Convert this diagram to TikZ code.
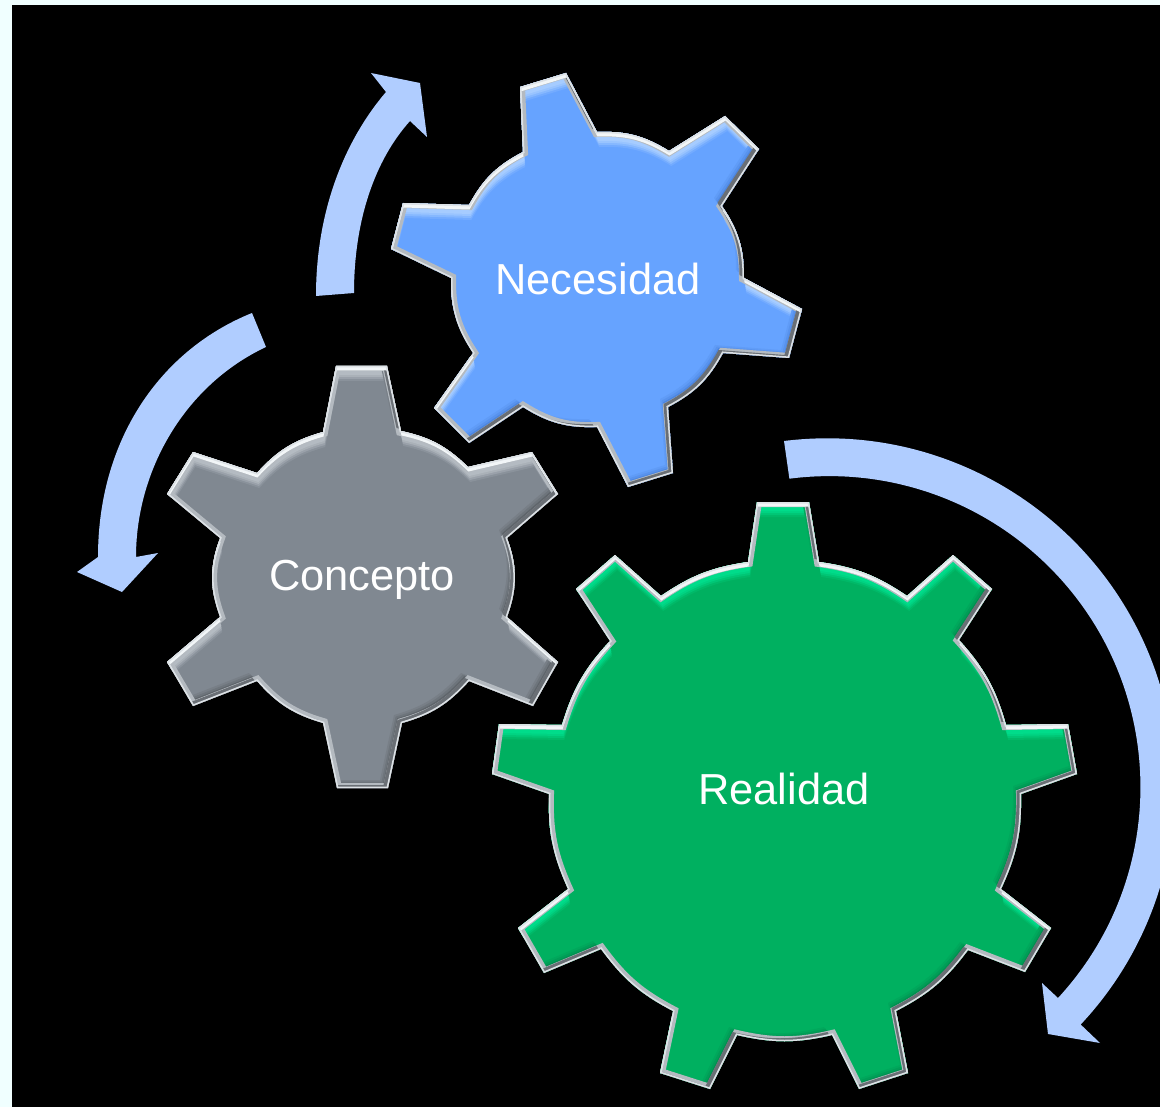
\documentclass[tikz,border=0pt]{standalone}
\usepackage{fontspec}
\setmainfont{Liberation Sans}
\definecolor{margincol}{HTML}{F0FFFF}
\definecolor{arrowcol}{HTML}{B0CDFF}
\definecolor{blueB}{HTML}{66A3FF}
\definecolor{blueL}{HTML}{A6CCFF}
\definecolor{blueD}{HTML}{4C86E0}
\definecolor{grayB}{HTML}{808891}
\definecolor{grayL}{HTML}{B4BBC2}
\definecolor{grayD}{HTML}{5F656B}
\definecolor{greenB}{HTML}{00B060}
\definecolor{greenL}{HTML}{00DC8A}
\definecolor{greenD}{HTML}{009050}
\definecolor{rimS}{HTML}{B4BAC0}
\definecolor{rimD}{HTML}{6A6F75}
\definecolor{rimW}{HTML}{F2F6F8}
\definecolor{rimO}{HTML}{DDE2E6}
\tikzset{
  geartext/.style={text=white,anchor=base,inner sep=0pt,font=\fontsize{43.4}{50}\selectfont},
  flowarrow/.style={fill=arrowcol,draw=none},
  arcN/.style={bend left=17},
  arcC/.style={bend left=16},
  arcS/.style={bend left=20},
  arcR/.style={bend left=13},
}
\def\gearN{(520,87) -- (566,73) -- (597,132) to[arcN] (669,151) -- (725,116) -- (759,149) -- (722,206) to[arcN] (744,278) -- (802,309) -- (789,358) -- (723,353) to[arcN] (668,407) -- (673,473) -- (628,487) -- (597,427) to[arcN] (523,407) -- (469,443) -- (434,408) -- (473,353) to[arcN] (451,278) -- (391,249) -- (403,203) -- (469,205) to[arcN] (523,152) -- cycle}
\def\gearC{(336,366) -- (387,366) -- (401,431) to[arcC] (468,467) -- (532,452) -- (558,494) -- (507,538) to[arcS] (507,617) -- (558,662) -- (533,706) -- (469,681) to[arcC] (402,723) -- (388,788) -- (337,788) -- (323,723) to[arcC] (257,681) -- (193,706) -- (167,662) -- (220,617) to[arcS] (220,538) -- (167,494) -- (193,452) -- (257,473) to[arcC] (323,432) -- cycle}
\def\gearR{(757,502) -- (809,502) -- (819,562) to[arcR] (907,596) -- (953,555) -- (992,589) -- (959,640) to[arcR] (1006,725) -- (1068,724) -- (1077,774) -- (1021,794) to[arcR] (1001,889) -- (1051,928) -- (1025,972) -- (968,950) to[arcR] (896,1011) -- (908,1073) -- (859,1089) -- (832,1035) to[arcR] (737,1035) -- (710,1089) -- (660,1073) -- (673,1011) to[arcR] (601,949) -- (544,973) -- (518,928) -- (568,889) to[arcR] (549,794) -- (492,774) -- (499,724) -- (562,725) to[arcR] (610,641) -- (576,589) -- (615,555) -- (661,596) to[arcR] (748,562) -- cycle}
\newcommand\biggear[4]{%
  \begin{scope}
    \clip #1;
    \fill[#2] (-300,-300) rectangle (1500,1500);
    \foreach \s/\m in {15/20,13/50,11/80,9/100}{
      \fill[#3!\m!#2,even odd rule,shift={({0.15*\s},\s)}] (-300,-300) rectangle (1500,1500) #1;
    }
    \foreach \s/\m in {10/25,8/55,6/100}{
      \fill[#4!\m!#2,even odd rule,shift={({-0.8*\s},{-0.8*\s})}] (-300,-300) rectangle (1500,1500) #1;
    }
    \draw[rimS,line width=10pt,line join=miter] #1;
    \fill[rimD,even odd rule,shift={(-4.5,-3)}] (-300,-300) rectangle (1500,1500) #1;
    \fill[rimW,even odd rule,shift={(0.5,4.5)}] (-300,-300) rectangle (1500,1500) #1;
    \draw[rimO,line width=3pt,line join=miter] #1;
  \end{scope}%
}
\begin{document}
\begin{tikzpicture}[x=1pt,y=-1pt]
\useasboundingbox (0,0) rectangle (1160,1107);
\fill[margincol] (0,0) rectangle (1160,1107);
\fill[black] (12,5) rectangle (1160,1107);
% arrows
\fill[flowarrow] (316,296) .. controls (316,210) and (345,140) .. (386,92) -- (371,73) -- (420,83) -- (427,137) -- (410,121) .. controls (375,160) and (354,220) .. (354,293) -- cycle;
\fill[flowarrow] (252,313) .. controls (160,350) and (98,440) .. (98,557) -- (77,572) -- (122,592) -- (158,553) -- (136,557) .. controls (136,470) and (185,385) .. (266,347) -- cycle;
\fill[flowarrow] (784,441) arc[start angle=97.1,end angle=-43.2,radius=348pt] -- (1100,1043) -- (1048,1034) -- (1042,983) -- (1058,998) arc[start angle=-42.7,end angle=97.4,radius=311pt] -- cycle;
% gears
\biggear{\gearN}{blueB}{blueL}{blueD}
\biggear{\gearC}{grayB}{grayL}{grayD}
\biggear{\gearR}{greenB}{greenL}{greenD}
\node[geartext] (necesidad) at (598,294.5) {Necesidad};
\node[geartext] (concepto) at (362,590.5) {Concepto};
\node[geartext] (realidad) at (784,804) {Realidad};
\end{tikzpicture}
\end{document}
